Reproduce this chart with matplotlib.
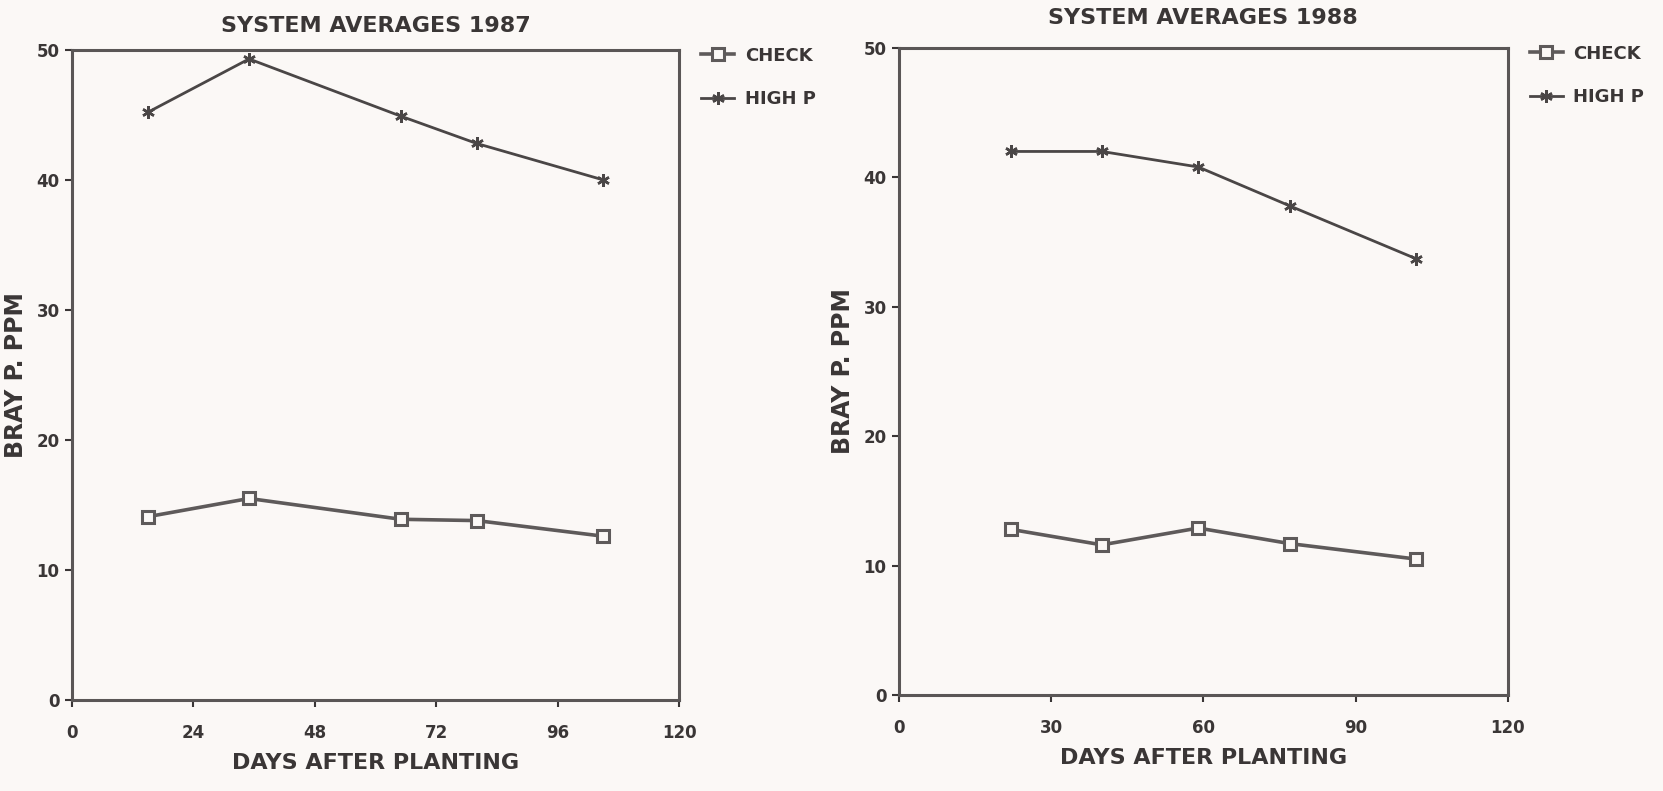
import matplotlib
matplotlib.use("Agg")
import matplotlib.pyplot as plt
import numpy as np

plt.rcParams['font.family'] = ['DejaVu Sans']
plt.rcParams['font.weight'] = 'bold'

# 1987 data
days_87 = [15, 35, 65, 80, 105]
check_87 = [14.1, 15.5, 13.9, 13.8, 12.6]
highp_87 = [45.2, 49.3, 44.9, 42.8, 40.0]

# 1988 data
days_88 = [22, 40, 59, 77, 102]
check_88 = [12.8, 11.6, 12.9, 11.7, 10.5]
highp_88 = [42.0, 42.0, 40.8, 37.8, 33.7]

xticks_87 = [0, 24, 48, 72, 96, 120]
xticks_88 = [0, 30, 60, 90, 120]
yticks = [0, 10, 20, 30, 40, 50]

bg = '#fbf8f6'
ink = '#3a3636'
line_col = '#4a4646'
check_col = '#5e5a5a'

fig = plt.figure(figsize=(16.63, 7.91), dpi=100, facecolor=bg)

ax1 = fig.add_axes([0.0433, 0.115, 0.365, 0.822])
ax2 = fig.add_axes([0.5406, 0.1214, 0.366, 0.818])

panels = [
    (ax1, days_87, check_87, highp_87, xticks_87, 'SYSTEM AVERAGES 1987', 13),
    (ax2, days_88, check_88, highp_88, xticks_88, 'SYSTEM AVERAGES 1988', 17),
]

for ax, days, check, highp, xt, title, tpad in panels:
    ax.set_facecolor(bg)
    ax.plot(days, check, color=check_col, lw=2.6, marker='s', ms=9,
            mfc=bg, mec=check_col, mew=2.2, label='CHECK')
    ax.plot(days, highp, color=line_col, lw=2.0, marker=(6, 2, 0), ms=9,
            mec=line_col, mew=1.8, label='HIGH P')
    ax.set_xlim(0, 120)
    ax.set_ylim(0, 50)
    ax.set_xticks(xt)
    ax.set_yticks(yticks)
    ax.tick_params(direction='out', length=5, width=1.5, colors=ink,
                   labelsize=12)
    ax.tick_params(axis='x', pad=12)
    ax.tick_params(axis='y', pad=4)
    for lab in ax.get_xticklabels() + ax.get_yticklabels():
        lab.set_fontweight('heavy')
    for s in ax.spines.values():
        s.set_color('#5a5656')
        s.set_linewidth(2.2)
    ax.set_title(title, fontsize=16, fontweight='heavy', color=ink, pad=tpad)
    ax.set_xlabel('DAYS AFTER PLANTING', fontsize=16, fontweight='heavy',
                  color=ink, labelpad=8)
    ax.set_ylabel('BRAY P. PPM', fontsize=17, fontweight='heavy',
                  color=ink, labelpad=6)
    leg = ax.legend(loc='upper left', bbox_to_anchor=(1.01, 1.03),
                    frameon=False, fontsize=13, handlelength=1.8,
                    labelspacing=1.4, handletextpad=0.6)
    for t in leg.get_texts():
        t.set_color(ink)
        t.set_fontweight('heavy')

fig.savefig('out.png', dpi=100, facecolor=bg)
